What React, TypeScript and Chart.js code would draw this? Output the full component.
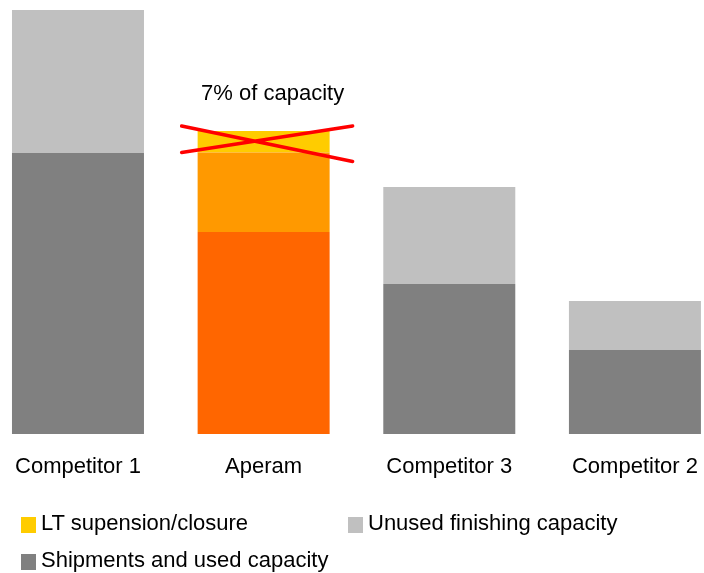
import React, { useEffect, useRef } from "react";
import { Chart, registerables } from "chart.js";

Chart.register(...registerables);

const categories = ["Competitor 1", "Aperam", "Competitor 3", "Competitor 2"];
const usedCapacity = [281, 202, 150, 84];
const unusedCapacity = [143, 79.5, 97, 49];
const ltSuspension = [null, 21.5, null, null];
const usedColors = ["#808080", "#FF6600", "#808080", "#808080"];
const unusedColors = ["#C0C0C0", "#FF9900", "#C0C0C0", "#C0C0C0"];
const ltColor = "#FFCC00";
const annotationText = "7% of capacity";
const legendItems = [
  { label: "LT supension/closure", color: "#FFCC00", left: 21, top: 523 },
  { label: "Unused finishing capacity", color: "#C0C0C0", left: 348, top: 523 },
  { label: "Shipments and used capacity", color: "#808080", left: 21, top: 560 },
];

const FONT = '"Liberation Sans", Arial, sans-serif';

const crossPlugin = {
  id: "crossPlugin",
  afterDatasetsDraw(chart: any) {
    const meta = chart.getDatasetMeta(2);
    const el: any = meta.data[1];
    if (!el) return;
    const { x, y, base, width } = el.getProps(["x", "y", "base", "width"], true);
    const ctx = chart.ctx;
    const left = x - width / 2 - 16;
    const right = x + width / 2 + 23;
    ctx.save();
    ctx.strokeStyle = "#FF0000";
    ctx.lineWidth = 3.5;
    ctx.lineCap = "round";
    ctx.beginPath();
    ctx.moveTo(left, y - 5);
    ctx.lineTo(right, base + 9);
    ctx.moveTo(left, base);
    ctx.lineTo(right, y - 5);
    ctx.stroke();
    ctx.fillStyle = "#000000";
    ctx.font = `22px ${FONT}`;
    ctx.textAlign = "center";
    ctx.textBaseline = "middle";
    ctx.fillText(annotationText, x + 9, y - 37);
    ctx.restore();
  },
};

export default function App() {
  const ref = useRef<HTMLCanvasElement>(null);
  useEffect(() => {
    if (!ref.current) return;
    const toPoints = (arr: (number | null)[]) =>
      arr.map((v, i) => ({ x: i, y: v }));
    const chart = new Chart(ref.current, {
      type: "bar",
      data: {
        datasets: [
          {
            label: "Shipments and used capacity",
            data: toPoints(usedCapacity) as any,
            backgroundColor: usedColors,
          },
          {
            label: "Unused finishing capacity",
            data: toPoints(unusedCapacity) as any,
            backgroundColor: unusedColors,
          },
          {
            label: "LT supension/closure",
            data: toPoints(ltSuspension) as any,
            backgroundColor: ltColor,
          },
        ],
      },
      options: {
        animation: false,
        responsive: false,
        devicePixelRatio: 1,
        layout: { padding: { top: 10, bottom: 72.6, left: 0, right: 0 } },
        datasets: {
          bar: { barPercentage: 0.711, categoryPercentage: 1, borderWidth: 0 },
        } as any,
        plugins: { legend: { display: false }, tooltip: { enabled: false } },
        scales: {
          x: {
            type: "linear",
            stacked: true,
            offset: false,
            min: -0.42,
            max: 3.372,
            grid: { display: false, drawTicks: false },
            border: { display: false },
            afterBuildTicks: (axis: any) => {
              axis.ticks = categories.map((_, i) => ({ value: i }));
            },
            afterFit: (axis: any) => {
              axis.paddingLeft = 0;
              axis.paddingRight = 0;
            },
            ticks: {
              autoSkip: false,
              maxRotation: 0,
              padding: 20,
              color: "#000000",
              font: { size: 22, family: FONT },
              callback: (v: any) => categories[Number(v)] ?? "",
            },
          },
          y: {
            stacked: true,
            display: false,
            min: 0,
            max: 424,
          },
        },
      },
      plugins: [crossPlugin],
    });
    return () => chart.destroy();
  }, []);

  return (
    <div style={{ position: "fixed", left: 0, top: 0, width: 704, height: 573, background: "#fff" }}>
      <canvas ref={ref} width={704} height={573} style={{ position: "absolute", left: 0, top: 0 }} />
      {legendItems.map((it) => (
        <React.Fragment key={it.label}>
          <div
            style={{
              position: "absolute",
              left: it.left,
              top: it.top - 6,
              width: 15,
              height: 16,
              background: it.color,
            }}
          />
          <div
            style={{
              position: "absolute",
              left: it.left + 20,
              top: it.top - 13,
              fontFamily: FONT,
              fontSize: 22,
              lineHeight: "26px",
              color: "#000",
              whiteSpace: "nowrap",
            }}
          >
            {it.label}
          </div>
        </React.Fragment>
      ))}
    </div>
  );
}
